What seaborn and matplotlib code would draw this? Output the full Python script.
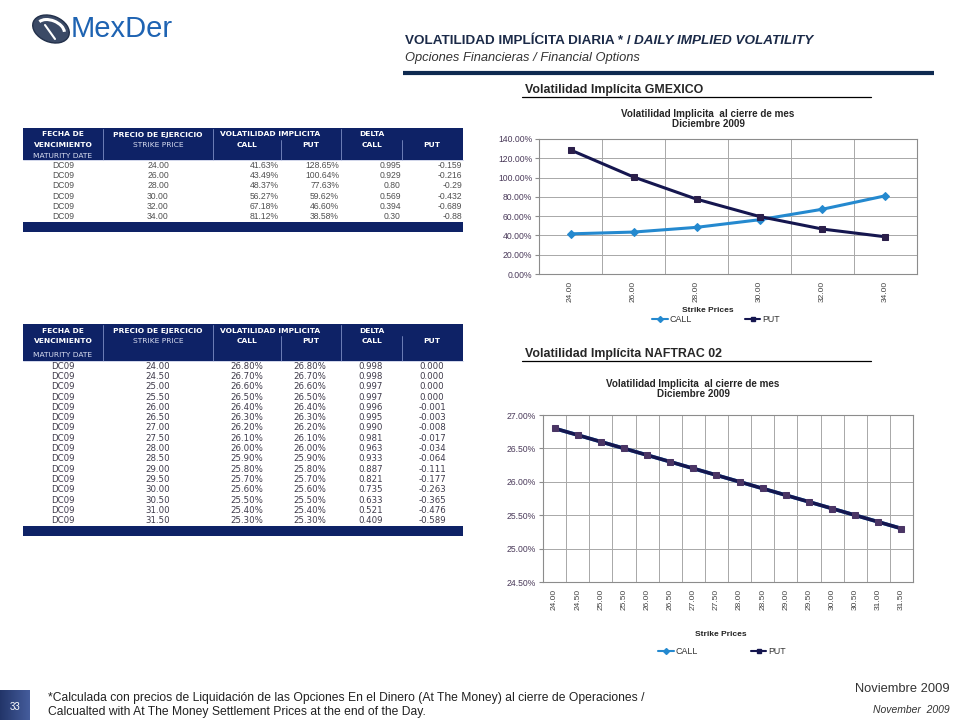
import matplotlib
matplotlib.use("Agg")
import matplotlib.pyplot as plt
import matplotlib.patches as mpatches
from matplotlib.lines import Line2D
from matplotlib.ticker import FixedLocator, FuncFormatter
import seaborn as sns
import pandas as pd

# --- GMEXICO (table 1 / chart 1)
gm_maturity = ["DC09", "DC09", "DC09", "DC09", "DC09", "DC09"]
gm_strike = [24.00, 26.00, 28.00, 30.00, 32.00, 34.00]
gm_call_vol = [41.63, 43.49, 48.37, 56.27, 67.18, 81.12]
gm_put_vol = [128.65, 100.64, 77.63, 59.62, 46.60, 38.58]
gm_delta_call = ["0.995", "0.929", "0.80", "0.569", "0.394", "0.30"]
gm_delta_put = ["-0.159", "-0.216", "-0.29", "-0.432", "-0.689", "-0.88"]

# --- NAFTRAC 02 (table 2 / chart 2)
nf_maturity = ["DC09"] * 16
nf_strike = [24.00, 24.50, 25.00, 25.50, 26.00, 26.50, 27.00, 27.50,
             28.00, 28.50, 29.00, 29.50, 30.00, 30.50, 31.00, 31.50]
nf_call_vol = [26.80, 26.70, 26.60, 26.50, 26.40, 26.30, 26.20, 26.10,
               26.00, 25.90, 25.80, 25.70, 25.60, 25.50, 25.40, 25.30]
nf_put_vol = [26.80, 26.70, 26.60, 26.50, 26.40, 26.30, 26.20, 26.10,
              26.00, 25.90, 25.80, 25.70, 25.60, 25.50, 25.40, 25.30]
nf_delta_call = ["0.998", "0.998", "0.997", "0.997", "0.996", "0.995", "0.990", "0.981",
                 "0.963", "0.933", "0.887", "0.821", "0.735", "0.633", "0.521", "0.409"]
nf_delta_put = ["0.000", "0.000", "0.000", "0.000", "-0.001", "-0.003", "-0.008", "-0.017",
                "-0.034", "-0.064", "-0.111", "-0.177", "-0.263", "-0.365", "-0.476", "-0.589"]

CALL_C = "#2489CF"
PUT_C = "#15164F"
NAVY = "#0E2266"
sns.set_style("white")
plt.rcParams["font.family"] = ["Liberation Sans", "DejaVu Sans"]

W, H = 960, 720
fig = plt.figure(figsize=(9.6, 7.2), dpi=100)
bg = fig.add_axes([0, 0, 1, 1], zorder=0)
bg.set_xlim(0, W)
bg.set_ylim(H, 0)
bg.axis("off")

# ---------- slide decoration ----------
logo = mpatches.Ellipse((51, 29), 38, 26, angle=22, fc="#3B4A66", ec="#22304A", lw=1)
bg.add_patch(logo)
bg.add_patch(mpatches.Arc((51, 29), 28, 17, angle=22, theta1=190, theta2=350,
                          color="white", lw=2.2))
bg.plot([45, 55], [25, 39], color="white", lw=1.5)
bg.text(71, 29, "MexDer", fontsize=21, color="#1E63B2", va="center", ha="left")

t1 = bg.text(405, 44, "VOLATILIDAD IMPLÍCITA DIARIA * / ", fontsize=9.7, fontweight="bold",
             color="#1B2A48", va="baseline", ha="left")
bg.annotate("DAILY IMPLIED VOLATILITY", xy=(1, 0), xycoords=t1, va="bottom", ha="left",
            fontsize=9.7, fontweight="bold", fontstyle="italic", color="#1B2A48")
bg.text(405, 61, "Opciones Financieras / Financial Options", fontsize=9.3, fontstyle="italic",
        color="#333333", va="baseline")
bg.plot([403, 934], [73, 73], color="#0F2A50", lw=3, solid_capstyle="butt")

bg.text(525, 93, "Volatilidad Implícita GMEXICO", fontsize=8.9, fontweight="bold", va="baseline")
bg.plot([522, 871], [97, 97], color="black", lw=0.9)
bg.text(525, 357, "Volatilidad Implícita NAFTRAC 02", fontsize=8.9, fontweight="bold", va="baseline")
bg.plot([522, 871], [361, 361], color="black", lw=0.9)

# footer
for k in range(30):
    shade = 0.25 + 0.45 * k / 30
    bg.add_patch(mpatches.Rectangle((k, 690), 1, 30, fc=(0.06 + shade * 0.3, 0.12 + shade * 0.35,
                                                           0.30 + shade * 0.45), ec="none"))
bg.text(15, 707, "33", color="white", fontsize=7, ha="center", va="center")
bg.text(48, 701, "*Calculada con precios de Liquidación de las Opciones En el Dinero (At The Money) "
        "al cierre de Operaciones /", fontsize=8.7, color="#222222", va="baseline")
bg.text(48, 715, "Calcualted with At The Money Settlement Prices at the end of the Day.",
        fontsize=8.7, color="#222222", va="baseline")
bg.text(950, 692, "Noviembre 2009", fontsize=9.3, color="#333333", ha="right", va="baseline")
bg.text(950, 713, "November  2009", fontsize=7.5, fontstyle="italic", color="#333333",
        ha="right", va="baseline")

# ---------- tables ----------
col_edges = [23, 103, 213, 281, 341, 402, 463]


def draw_table(top, bottom, line_y, row_h, rows, aligns, xs, fam, tcolor):
    bg.add_patch(mpatches.Rectangle((col_edges[0], top), col_edges[-1] - col_edges[0],
                                    bottom - top, fc=NAVY, ec="none"))
    for x in [103, 213, 341]:
        bg.plot([x, x], [top + 1, bottom], color="#7C8DC4", lw=0.6)
    for x in [281, 402]:
        bg.plot([x, x], [line_y[0] + 5, bottom], color="#7C8DC4", lw=0.6)
    hb = dict(color="white", fontsize=5.4, fontweight="bold", family="DejaVu Sans",
              ha="center", va="center")
    hr = dict(color="#D8DDF0", fontsize=5.4, family="DejaVu Sans", ha="center", va="center")
    bg.text(63, line_y[0], "FECHA DE", **hb)
    bg.text(63, line_y[1], "VENCIMIENTO", **hb)
    bg.text(63, line_y[2], "MATURITY DATE", **hr)
    bg.text(158, line_y[0], "PRECIO DE EJERCICIO", **hb)
    bg.text(158, line_y[1], "STRIKE PRICE", **hr)
    bg.text(270, line_y[0], "VOLATILIDAD IMPLICITA", **hb)
    bg.text(247, line_y[1], "CALL", **hb)
    bg.text(311, line_y[1], "PUT", **hb)
    bg.text(372, line_y[0], "DELTA", **hb)
    bg.text(372, line_y[1], "CALL", **hb)
    bg.text(432, line_y[1], "PUT", **hb)
    for r, row in enumerate(rows):
        y = bottom + row_h * (r + 0.5)
        for c, val in enumerate(row):
            bg.text(xs[c], y, val, ha=aligns[c], va="center", fontsize=6.2,
                    family=fam, color=tcolor)
    end = bottom + row_h * len(rows)
    bg.plot([col_edges[0], col_edges[-1]], [bottom, bottom], color="#C9CFE6", lw=0.6)
    bg.add_patch(mpatches.Rectangle((col_edges[0], end), col_edges[-1] - col_edges[0], 10,
                                    fc=NAVY, ec="none"))


gm_rows = [[m, f"{s:.2f}", f"{c:.2f}%", f"{p:.2f}%", dc, dp]
           for m, s, c, p, dc, dp in zip(gm_maturity, gm_strike, gm_call_vol, gm_put_vol,
                                         gm_delta_call, gm_delta_put)]
draw_table(128, 160, [134.5, 145, 155.5], 10.3, gm_rows,
           ["center", "center", "right", "right", "right", "right"],
           [63, 158, 279, 339, 401, 462], ["Liberation Sans", "DejaVu Sans"], "#505050")

nf_rows = [[m, f"{s:.2f}", f"{c:.2f}%", f"{p:.2f}%", dc, dp]
           for m, s, c, p, dc, dp in zip(nf_maturity, nf_strike, nf_call_vol, nf_put_vol,
                                         nf_delta_call, nf_delta_put)]
draw_table(324, 361, [331, 341, 355], 10.3, nf_rows,
           ["center"] * 6, [63, 158, 247, 310, 371, 432], "DejaVu Sans", "#3E3A4A")


# ---------- charts ----------
def px_axes(left, top, right, bottom):
    return fig.add_axes([left / W, 1 - bottom / H, (right - left) / W, (bottom - top) / H],
                        zorder=2)


def draw_chart(ax, strikes, call, put, ylo, yhi, ystep, mcolor, msize, csize, lw):
    n = len(strikes)
    pos = list(range(n))
    df = pd.DataFrame({
        "pos": pos + pos,
        "vol": call + put,
        "serie": ["CALL"] * n + ["PUT"] * n,
    })
    sns.lineplot(data=df, x="pos", y="vol", hue="serie", style="serie",
                 palette={"CALL": CALL_C, "PUT": PUT_C},
                 markers={"CALL": "D", "PUT": "s"}, dashes=False,
                 linewidth=lw, markersize=msize,
                 legend=False, ax=ax, zorder=3)
    for ln, c in zip(ax.lines, ["CALL", "PUT"]):
        if c == "CALL":
            ln.set_markerfacecolor(CALL_C)
            ln.set_markeredgecolor(CALL_C)
            ln.set_markersize(csize)
        else:
            ln.set_markerfacecolor(mcolor)
            ln.set_markeredgecolor(mcolor)
    ax.set_xlim(-0.5, n - 0.5)
    ax.set_ylim(ylo, yhi)
    yt = [ylo + ystep * i for i in range(int(round((yhi - ylo) / ystep)) + 1)]
    ax.yaxis.set_major_locator(FixedLocator(yt))
    ax.yaxis.set_major_formatter(FuncFormatter(lambda v, _: f"{v:.2f}%"))
    ax.xaxis.set_major_locator(FixedLocator(pos))
    ax.set_xticklabels([f"{s:.2f}" for s in strikes], rotation=90)
    ax.xaxis.set_minor_locator(FixedLocator([p + 0.5 for p in pos[:-1]]))
    ax.grid(True, axis="y", which="major", color="#A8A8A8", lw=0.7)
    ax.grid(True, axis="x", which="minor", color="#A8A8A8", lw=0.7)
    ax.grid(False, axis="x", which="major")
    ax.tick_params(axis="x", which="major", length=0, pad=5, labelsize=6, labelcolor="#444444")
    ax.tick_params(axis="x", which="minor", length=4, color="#8C8C8C", direction="out")
    ax.tick_params(axis="y", length=3, color="#8C8C8C", labelsize=6.2, labelcolor="#4A3A5A",
                   pad=2, left=True)
    for s in ax.spines.values():
        s.set_color("#8C8C8C")
        s.set_linewidth(0.8)
        s.set_visible(True)
    ax.set_xlabel("")
    ax.set_ylabel("")
    ax.set_facecolor("white")


ax1 = px_axes(539, 139, 917, 274)
draw_chart(ax1, gm_strike, gm_call_vol, gm_put_vol, 0, 140, 20, "#2B1F4A", 4.2, 4.3, 2.2)
ax2 = px_axes(543, 415, 913, 582)
draw_chart(ax2, nf_strike, nf_call_vol, nf_put_vol, 24.5, 27.0, 0.5, "#4A3565", 4.2, 2.5, 2.6)

ctitle = "Volatilidad Implicita  al cierre de mes\nDiciembre 2009"
bg.text(708, 119, ctitle, ha="center", va="center", fontsize=7.1, fontweight="bold",
        linespacing=1.1)
bg.text(693, 389, ctitle, ha="center", va="center", fontsize=7.1, fontweight="bold",
        linespacing=1.1)
bg.text(708, 310, "Strike Prices", ha="center", va="center", fontsize=6, fontweight="bold",
        color="#222222")
bg.text(721, 634, "Strike Prices", ha="center", va="center", fontsize=6, fontweight="bold",
        color="#222222")

handles = [Line2D([], [], color=CALL_C, marker="D", markersize=3, lw=1.5),
           Line2D([], [], color=PUT_C, marker="s", markersize=3, lw=1.5)]
for cx, cy in [(716, 320), (722, 652)]:
    fig.legend(handles, ["CALL", "PUT"], loc="center", bbox_to_anchor=(cx / W, 1 - cy / H),
               ncol=2, frameon=False, fontsize=6.4, handlelength=1.7, handletextpad=0.2,
               columnspacing=6, labelcolor="#333333")

fig.savefig("out.png", dpi=100)
